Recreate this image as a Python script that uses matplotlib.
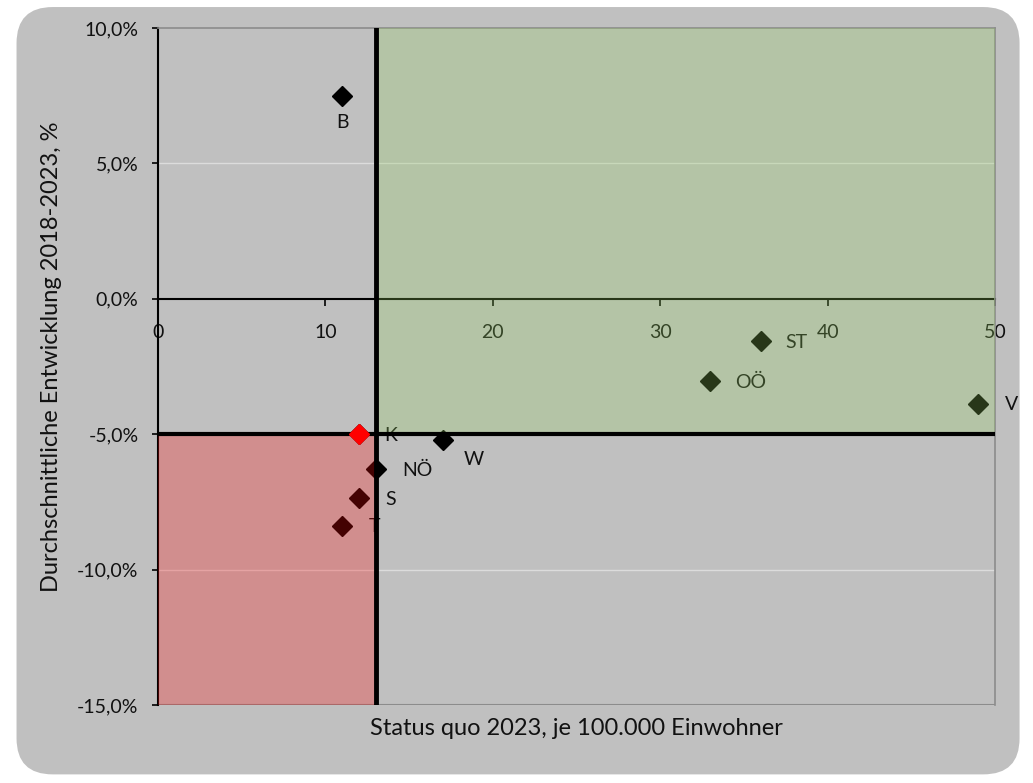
import matplotlib.pyplot as plt
from matplotlib.patches import FancyBboxPatch, Rectangle
from matplotlib.ticker import FuncFormatter

plt.rcParams['font.family'] = ['Lato', 'DejaVu Sans']

# Bundeslaender: status quo per 100,000 inhabitants vs. average development 2018-2023 (%)
labels = ['B', 'K', 'NÖ', 'S', 'T', 'W', 'OÖ', 'ST', 'V']
status = [11, 12, 13, 12, 11, 17, 33, 36, 49]
growth = [7.5, -5.0, -6.3, -7.35, -8.4, -5.2, -3.05, -1.55, -3.9]
# label offsets in pixels (dx, dy)
offsets = [(0, -27), (32, -1), (42, -1), (32, -2), (32, 0), (31, -20), (40, -1), (36, -2), (33, 0)]

x_ref = 13     # vertical threshold
y_ref = -5.0   # horizontal threshold

bg = '#c0c0c0'
fig = plt.figure(figsize=(10.33, 7.83), dpi=100)
fig.patch.set_facecolor('white')
fig.patches.append(FancyBboxPatch((0.016, 0.011), 0.971, 0.98, boxstyle='round,pad=0,rounding_size=0.035',
                                  transform=fig.transFigure, facecolor=bg, edgecolor='none', zorder=-10,
                                  mutation_aspect=1033 / 783))

ax = fig.add_axes([0.153, 0.0996, 0.8102, 0.8646])
ax.set_facecolor(bg)
ax.set_xlim(0, 50)
ax.set_ylim(-15, 10)

# grid + frame
for yv in [5, -10]:
    ax.axhline(yv, color='#dcdcdc', lw=1, zorder=1)
ax.axhline(-15, color='#8c8c8c', lw=1.5, zorder=1)
for s in ['top', 'right']:
    ax.spines[s].set_color('#8c8c8c')
    ax.spines[s].set_linewidth(1.2)
ax.spines['bottom'].set_position(('data', 0))
ax.spines['bottom'].set_color('black')
ax.spines['bottom'].set_linewidth(1.5)
ax.spines['left'].set_color('black')
ax.spines['left'].set_linewidth(1.5)
ax.spines['bottom'].set_zorder(2)
ax.spines['left'].set_zorder(2)

ax.set_xticks([0, 10, 20, 30, 40, 50])
ax.set_yticks([-15, -10, -5, 0, 5, 10])
ax.yaxis.set_major_formatter(FuncFormatter(lambda v, p: f'{v:.1f}%'.replace('.', ',')))
ax.tick_params(axis='x', direction='out', length=5, width=1.2, pad=13, labelsize=14, colors='black')
ax.tick_params(axis='y', direction='out', length=4, width=1.2, pad=10, labelsize=14, colors='black')
for t in ax.get_xticklabels() + ax.get_yticklabels():
    t.set_color('#111111')

# points
ax.plot(status, growth, linestyle='none', marker='D', markersize=10.5, color='black', zorder=3)
for lab, xv, yv, (dx, dy) in zip(labels, status, growth, offsets):
    ax.annotate(lab, (xv, yv), xytext=(dx, dy), textcoords='offset pixels', ha='center', va='center',
                fontsize=14, color='#111111', zorder=3, annotation_clip=False)

# quadrant overlays
ax.add_patch(Rectangle((x_ref, y_ref), 50 - x_ref, 10 - y_ref, facecolor=(148/255, 207/255, 96/255),
                       alpha=0.27, edgecolor='none', zorder=4))
ax.add_patch(Rectangle((0, -15), x_ref, y_ref + 15, facecolor=(1.0, 0.04, 0.04),
                       alpha=0.27, edgecolor='none', zorder=4))

# threshold lines
ax.axvline(x_ref, color='black', lw=3.5, zorder=5)
ax.plot([0, 50], [y_ref, y_ref], color='black', lw=3, zorder=5, solid_capstyle='butt')

# K highlighted in red
k = labels.index('K')
ax.plot([status[k]], [growth[k]], linestyle='none', marker='D', markersize=10.5, color='red', zorder=6)

ax.set_xlabel('Status quo 2023, je 100.000 Einwohner', fontsize=17, color='#111111')
ax.xaxis.set_label_coords(0.5, -0.019)
ax.set_ylabel('Durchschnittliche Entwicklung 2018-2023, %', fontsize=17, color='#111111')
ax.yaxis.set_label_coords(-0.115, 0.515)

fig.savefig('out.png', dpi=100)
